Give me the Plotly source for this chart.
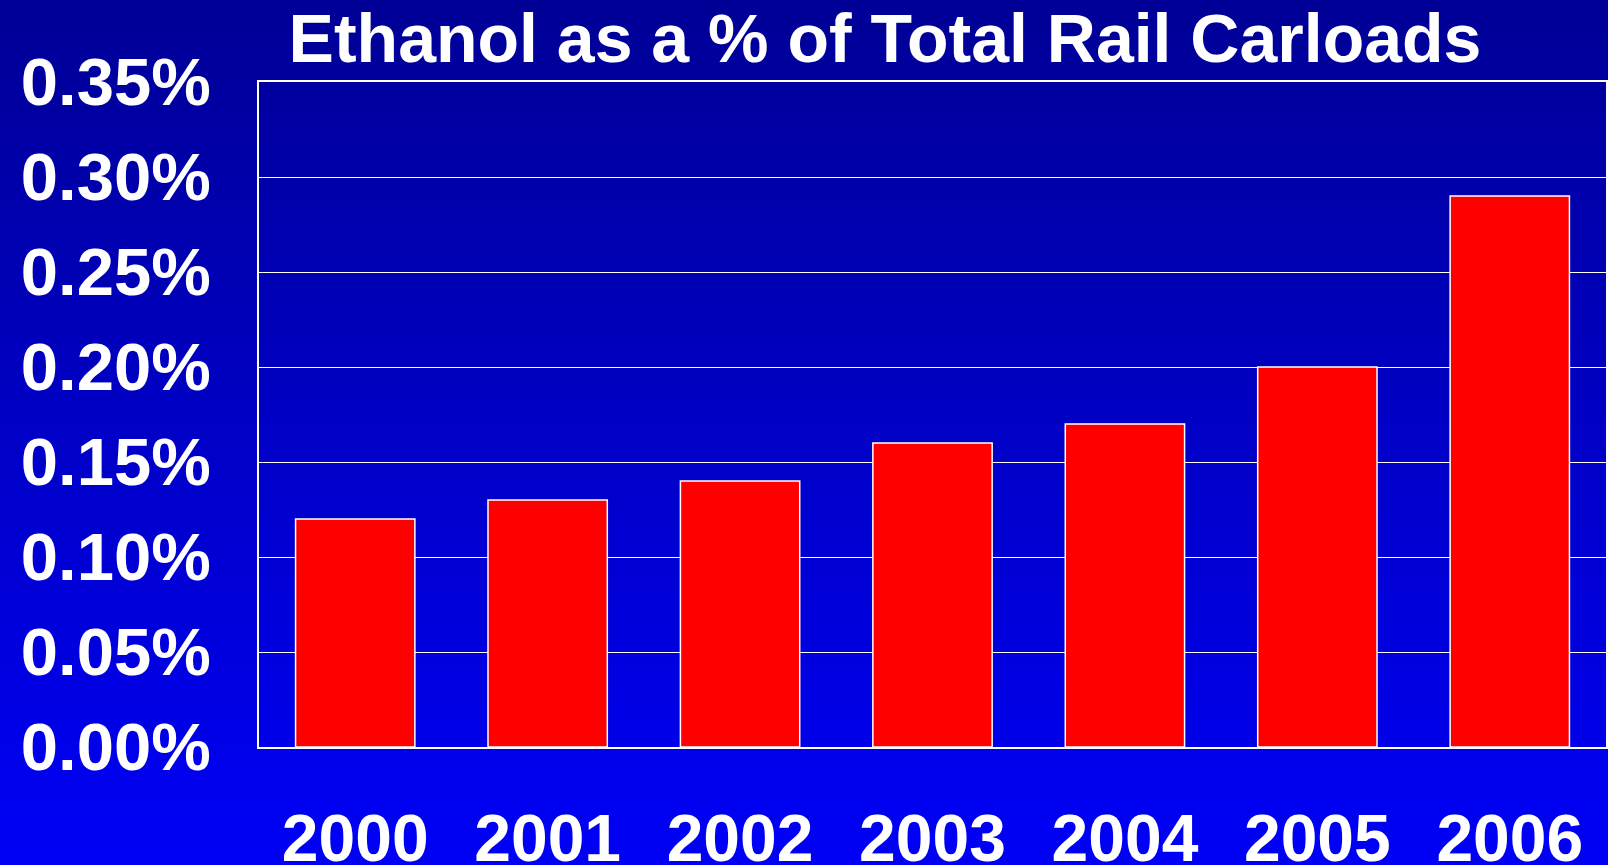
import plotly.graph_objects as go

years = ["2000", "2001", "2002", "2003", "2004", "2005", "2006"]
share_pct = [0.12, 0.13, 0.14, 0.16, 0.17, 0.20, 0.29]
y_ticks = [0.00, 0.05, 0.10, 0.15, 0.20, 0.25, 0.30, 0.35]
y_tick_labels = ["0.00%", "0.05%", "0.10%", "0.15%", "0.20%", "0.25%", "0.30%", "0.35%"]
title_text = "Ethanol as a % of Total Rail Carloads"

W, H = 1608, 865
ML, MR, MT, MB = 259, 2, 82, 118
PH = H - MT - MB

FONT = "Liberation Sans, Arial, Helvetica, sans-serif"

fig = go.Figure()
fig.add_trace(go.Bar(
    x=years, y=share_pct,
    marker=dict(color="#FF0000", line=dict(color="white", width=1.5)),
    hoverinfo="skip",
))

# vertical background gradient (dark navy at top, bright blue at bottom)
top_rgb = (0, 0, 150)
bot_rgb = (0, 0, 246)
N = 120
shapes = []
for i in range(N):
    t = i / (N - 1)
    c = tuple(round(a + (b - a) * t) for a, b in zip(top_rgb, bot_rgb))
    py0 = H * i / N - 1
    py1 = H * (i + 1) / N + 1
    y0 = (H - MB - py0) / PH
    y1 = (H - MB - py1) / PH
    shapes.append(dict(
        type="rect", xref="paper", yref="paper",
        x0=-(ML + 5) / (W - ML - MR), x1=1 + (MR + 5) / (W - ML - MR),
        y0=y1, y1=y0, line=dict(width=0),
        fillcolor=f"rgb{c}", layer="below",
    ))

fig.update_layout(
    width=W, height=H,
    autosize=False,
    margin=dict(l=ML, r=MR, t=MT, b=MB, pad=0),
    paper_bgcolor="rgb(0,0,200)",
    plot_bgcolor="rgba(0,0,0,0)",
    shapes=shapes,
    showlegend=False,
    bargap=0.38,
    title=dict(
        text=title_text,
        x=885 / W, xref="container", xanchor="center",
        y=1 - 14 / H, yref="container", yanchor="top",
        font=dict(family=FONT, size=68, color="white", weight=700),
        automargin=False,
    ),
    xaxis=dict(
        automargin=False,
        showgrid=False, showline=True, mirror=True,
        linecolor="white", linewidth=1.5,
        ticks="", ticklabelstandoff=33,
        tickfont=dict(family=FONT, size=66, color="white", weight=700),
    ),
    yaxis=dict(
        automargin=False,
        range=[0, 0.35], tickmode="array",
        tickvals=y_ticks, ticktext=y_tick_labels,
        showgrid=True, gridcolor="white", gridwidth=1.2,
        zeroline=False, showline=True, mirror=True,
        linecolor="white", linewidth=1.5,
        ticks="", ticklabelstandoff=33,
        tickfont=dict(family=FONT, size=67, color="white", weight=700),
    ),
)

fig.write_html(
    "out.html",
    config={"displayModeBar": False},
    post_script="document.body.style.margin='0';document.body.style.overflow='hidden';",
)
